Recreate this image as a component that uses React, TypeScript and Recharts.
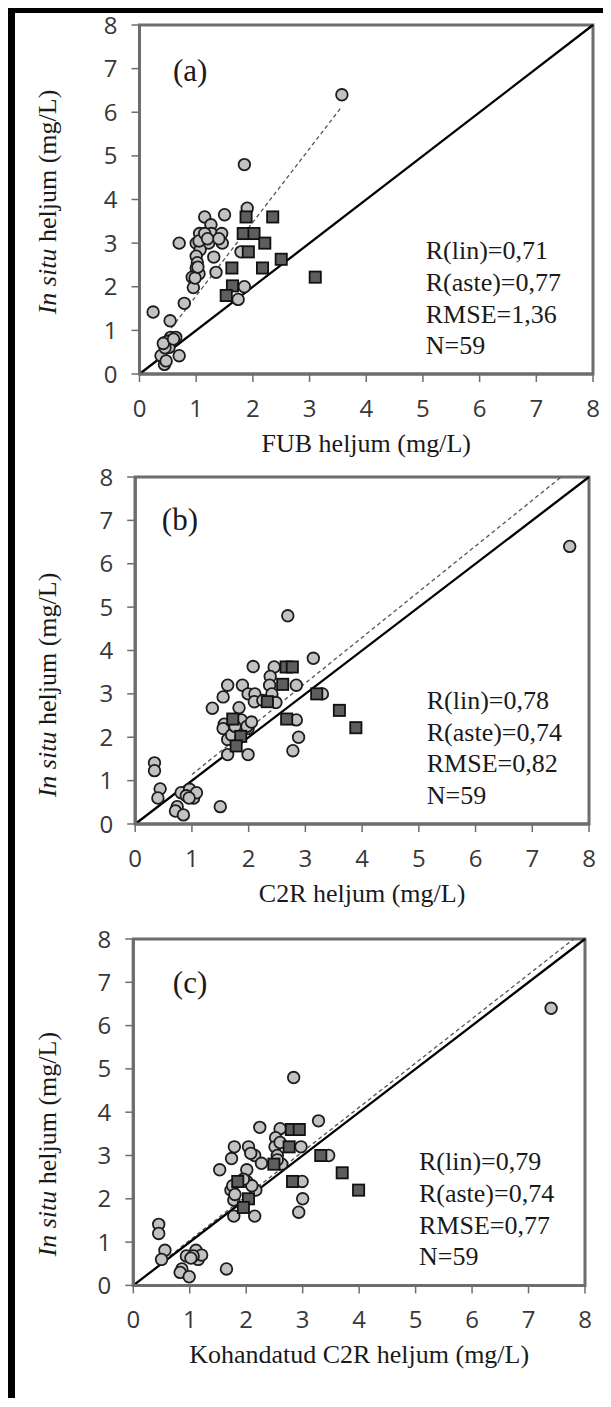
import React from 'react';
import { ScatterChart, Scatter, XAxis, YAxis, ReferenceLine, ReferenceArea, ReferenceDot } from 'recharts';

const axisTicks = [0, 1, 2, 3, 4, 5, 6, 7, 8];

// (a) FUB vs in situ
const fubCircles = [
  [3.57, 6.4], [1.85, 4.8], [1.9, 3.8], [1.5, 3.65], [1.15, 3.6], [1.26, 3.42], [1.06, 3.22], [1.27, 3.22],
  [1.45, 3.22], [0.7, 3.0], [1.0, 3.0], [1.1, 3.0], [1.22, 3.0], [1.46, 3.0], [1.07, 2.85], [1.79, 2.8],
  [1.0, 2.7], [1.31, 2.68], [1.02, 2.55], [1.0, 2.43], [1.05, 2.3], [0.93, 2.22], [1.35, 2.33], [0.95, 1.98],
  [1.85, 2.0], [1.74, 1.71], [0.79, 1.62], [0.24, 1.42], [0.54, 1.22], [0.55, 0.84], [0.64, 0.84], [0.44, 0.72],
  [0.5, 0.75], [0.52, 0.61], [0.7, 0.42], [0.38, 0.42], [0.44, 0.22], [0.45, 0.6], [1.05, 3.05], [0.98, 2.2],
  [1.03, 2.45], [0.42, 0.7], [0.47, 0.3], [1.15, 3.22], [1.4, 3.1], [0.6, 0.8], [1.2, 3.1],
];
const fubSquares = [
  [1.88, 3.6], [2.35, 3.6], [1.83, 3.22], [2.02, 3.22], [2.21, 3.0], [1.92, 2.8],
  [2.5, 2.63], [1.63, 2.43], [2.17, 2.43], [3.1, 2.22], [1.64, 2.02], [1.53, 1.8],
];
const fubFit = [[0.56, 1.05], [3.57, 6.13]];
const fubStats = ['R(lin)=0,71', 'R(aste)=0,77', 'RMSE=1,36', 'N=59'];

// (b) C2R vs in situ
const c2rCircles = [
  [7.66, 6.4], [2.69, 4.8], [3.14, 3.82], [2.08, 3.63], [2.45, 3.62], [2.38, 3.4], [1.63, 3.2], [1.89, 3.2],
  [2.37, 3.2], [2.84, 3.2], [1.55, 2.93], [1.99, 3.0], [2.11, 3.0], [2.1, 2.82], [2.41, 3.0], [2.48, 2.8],
  [3.3, 3.0], [1.36, 2.67], [1.83, 2.68], [1.57, 2.3], [1.55, 2.2], [1.87, 2.4], [1.99, 2.2], [1.63, 1.95],
  [1.63, 1.6], [1.99, 1.6], [2.84, 2.4], [2.88, 2.0], [2.78, 1.69], [0.34, 1.41], [0.34, 1.23], [0.44, 0.81],
  [0.4, 0.6], [0.81, 0.72], [0.96, 0.8], [1.03, 0.6], [1.08, 0.72], [0.74, 0.4], [0.71, 0.3], [0.85, 0.21],
  [1.5, 0.4], [0.9, 0.65], [1.97, 2.25], [1.7, 2.05], [2.25, 2.85], [1.76, 2.25], [0.95, 0.6], [2.05, 2.35],
];
const c2rSquares = [
  [2.66, 3.62], [2.77, 3.62], [2.6, 3.22], [2.33, 2.82], [3.2, 3.0], [2.67, 2.42],
  [3.6, 2.62], [3.89, 2.22], [1.72, 2.42], [1.86, 2.02], [1.78, 1.8],
];
const c2rFit = [[1.0, 1.14], [7.51, 8.0]];
const c2rStats = ['R(lin)=0,78', 'R(aste)=0,74', 'RMSE=0,82', 'N=59'];

// (c) adjusted C2R vs in situ
const adjCircles = [
  [7.4, 6.4], [2.84, 4.8], [3.28, 3.8], [2.24, 3.65], [2.6, 3.62], [2.52, 3.41], [1.79, 3.2], [2.04, 3.2],
  [2.51, 3.2], [2.97, 3.2], [1.74, 2.93], [2.15, 3.0], [2.27, 2.82], [2.55, 3.0], [2.63, 2.8], [3.46, 3.0],
  [1.53, 2.67], [2.01, 2.67], [1.73, 2.2], [1.76, 2.3], [2.01, 2.4], [2.17, 2.2], [1.78, 1.97], [1.78, 1.6],
  [2.15, 1.6], [2.99, 2.4], [3.0, 2.0], [2.93, 1.69], [0.45, 1.41], [0.45, 1.2], [0.56, 0.81], [0.5, 0.6],
  [0.94, 0.68], [1.11, 0.81], [1.15, 0.6], [1.21, 0.7], [0.86, 0.38], [0.83, 0.3], [0.99, 0.2], [1.65, 0.38],
  [1.06, 0.68], [2.08, 3.05], [2.1, 2.3], [1.8, 2.1], [2.55, 2.9], [2.6, 3.3], [1.95, 2.45], [1.02, 0.63],
];
const adjSquares = [
  [2.8, 3.6], [2.94, 3.6], [2.76, 3.2], [2.49, 2.8], [3.32, 3.0], [2.82, 2.4],
  [3.7, 2.6], [3.99, 2.2], [1.85, 2.4], [2.04, 2.0], [1.95, 1.8],
];
const adjFit = [[0.45, 0.48], [7.8, 8.0]];
const adjStats = ['R(lin)=0,79', 'R(aste)=0,74', 'RMSE=0,77', 'N=59'];

const toPoints = (pairs: number[][]) => pairs.map(([x, y]) => ({ x, y }));

const serifStyle = { fontFamily: "'Liberation Serif', 'DejaVu Serif', serif" };
const sansStyle = { fontFamily: "'Open Sans', 'Liberation Sans', sans-serif" };
const frameGray = '#6d6d6d';

const CircleMark = (p: any) => (
  <circle cx={p.cx} cy={p.cy} r={5.8} fill="#c2c2c2" stroke="#1c1c1c" strokeWidth={1.8} />
);
const SquareMark = (p: any) => (
  <rect x={p.cx - 5.6} y={p.cy - 5.6} width={11.2} height={11.2} fill="#5e5e5e" stroke="#111" strokeWidth={1.8} />
);

type PanelProps = {
  tag: string;
  tagAt: number[];
  xTitle: string;
  yTitleShift: number;
  circles: number[][];
  squares: number[][];
  fit: number[][];
  stats: string[];
  statsAt: number[];
  plotLeft: number;
  plotTop: number;
  plotW: number;
  plotH: number;
};

function Panel(props: PanelProps) {
  const { tag, tagAt, xTitle, yTitleShift, circles, squares, fit, stats, statsAt, plotLeft, plotTop, plotW, plotH } = props;
  const yAxisW = 60;
  const chartW = 603;
  const marginTop = 22;
  const marginLeft = plotLeft - 8 - yAxisW;
  const marginRight = 611 - (plotLeft + plotW);
  const chartH = marginTop + plotH + 40 + 50;

  return (
    <div style={{ position: 'absolute', left: 0, top: plotTop - 8 - marginTop }}>
      <ScatterChart
        width={chartW}
        height={chartH}
        margin={{ top: marginTop, right: marginRight, bottom: 50, left: marginLeft }}
      >
        <XAxis
          type="number"
          dataKey="x"
          domain={[0, 8]}
          ticks={axisTicks}
          height={40}
          tickSize={8}
          tickMargin={18}
          axisLine={{ stroke: frameGray, strokeWidth: 3 }}
          tickLine={{ stroke: frameGray, strokeWidth: 1.5 }}
          tick={{ ...sansStyle, fontSize: 24, fill: '#383838' }}
          label={{
            content: (lp: any) => {
              const vb = lp.viewBox;
              return (
                <text x={vb.x + vb.width / 2} y={vb.y + 78} textAnchor="middle" style={serifStyle} fontSize={26} fill="#1a1a1a">
                  {xTitle}
                </text>
              );
            },
          }}
        />
        <YAxis
          type="number"
          dataKey="y"
          domain={[0, 8]}
          ticks={axisTicks}
          width={yAxisW}
          tickSize={8}
          tickMargin={14}
          axisLine={{ stroke: frameGray, strokeWidth: 3 }}
          tickLine={{ stroke: frameGray, strokeWidth: 1.5 }}
          tick={{ ...sansStyle, fontSize: 24, fill: '#383838' }}
          label={{
            content: (lp: any) => {
              const vb = lp.viewBox;
              const cy = vb.y + vb.height / 2 + yTitleShift;
              const lx = 39;
              return (
                <text x={lx} y={cy} transform={`rotate(-90, ${lx}, ${cy})`} textAnchor="middle" dy="0.35em" style={serifStyle} fontSize={26} fill="#1a1a1a">
                  <tspan fontStyle="italic">In situ</tspan> heljum (mg/L)
                </text>
              );
            },
          }}
        />
        <ReferenceArea x1={0} x2={8} y1={0} y2={8} fill="none" fillOpacity={0} stroke={frameGray} strokeWidth={3} />
        <ReferenceLine
          segment={[{ x: fit[0][0], y: fit[0][1] }, { x: fit[1][0], y: fit[1][1] }]}
          stroke="#555"
          strokeWidth={1.3}
          strokeDasharray="4 3"
        />
        <ReferenceLine segment={[{ x: 0, y: 0 }, { x: 8, y: 8 }]} stroke="#000" strokeWidth={2.3} />
        <Scatter data={toPoints(circles)} shape={CircleMark} isAnimationActive={false} />
        <Scatter data={toPoints(squares)} shape={SquareMark} isAnimationActive={false} />
        <ReferenceDot
          x={tagAt[0]}
          y={tagAt[1]}
          r={0}
          shape={(sp: any) => (
            <text x={sp.cx} y={sp.cy} dy="0.35em" style={serifStyle} fontSize={31} fill="#1a1a1a">
              {tag}
            </text>
          )}
        />
        <ReferenceDot
          x={statsAt[0]}
          y={statsAt[1]}
          r={0}
          shape={(sp: any) => (
            <text x={sp.cx} y={sp.cy + 9} style={serifStyle} fontSize={26} fill="#1a1a1a">
              {stats.map((s, i) => (
                <tspan key={s} x={sp.cx} dy={i === 0 ? 0 : 31.7}>
                  {s}
                </tspan>
              ))}
            </text>
          )}
        />
      </ScatterChart>
    </div>
  );
}

export default function App() {
  return (
    <div style={{ position: 'relative', width: 603, height: 1390, overflow: 'hidden', background: '#fff' }}>
      <div
        style={{
          position: 'absolute',
          left: 0,
          top: 0,
          width: 603,
          height: 1390,
          boxSizing: 'border-box',
          borderLeft: '7px solid #000',
          borderTop: '5px solid #000',
        }}
      />
      <Panel
        tag="(a)"
        tagAt={[0.59, 6.97]}
        xTitle="FUB heljum (mg/L)"
        yTitleShift={2.5}
        circles={fubCircles}
        squares={fubSquares}
        fit={fubFit}
        stats={fubStats}
        statsAt={[5.05, 2.84]}
        plotLeft={139.5}
        plotTop={25}
        plotW={453.5}
        plotH={349}
      />
      <Panel
        tag="(b)"
        tagAt={[0.47, 7.03]}
        xTitle="C2R heljum (mg/L)"
        yTitleShift={34.5}
        circles={c2rCircles}
        squares={c2rSquares}
        fit={c2rFit}
        stats={c2rStats}
        statsAt={[5.14, 2.86]}
        plotLeft={135.2}
        plotTop={477}
        plotW={453.8}
        plotH={347}
      />
      <Panel
        tag="(c)"
        tagAt={[0.7, 7.0]}
        xTitle="Kohandatud C2R heljum (mg/L)"
        yTitleShift={32}
        circles={adjCircles}
        squares={adjSquares}
        fit={adjFit}
        stats={adjStats}
        statsAt={[5.06, 2.87]}
        plotLeft={133.3}
        plotTop={938.6}
        plotW={451.7}
        plotH={346.4}
      />
    </div>
  );
}
